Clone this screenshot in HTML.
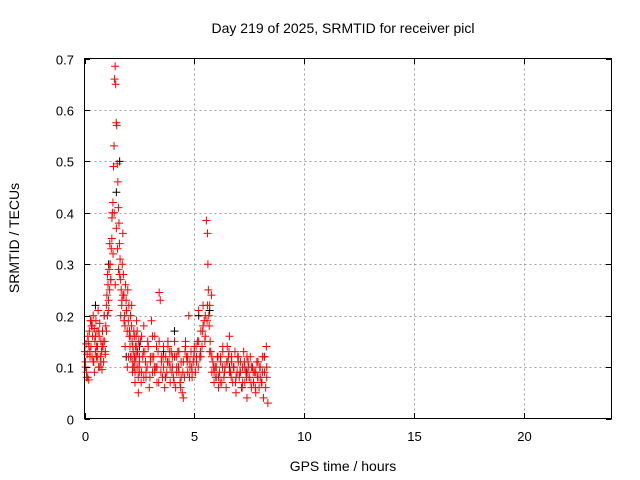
<!DOCTYPE html>
<html><head><meta charset="utf-8"><style>
body{margin:0;background:#fff;}
svg{display:block;font-family:"Liberation Sans",sans-serif;}
</style></head><body>
<svg id="chart" width="640" height="480" xmlns="http://www.w3.org/2000/svg">
<rect x="0" y="0" width="640" height="480" fill="#fff"/>
<g id="grid"></g>
<g id="marks"></g>
<rect x="84.5" y="58.5" width="527" height="360" fill="none" stroke="#000" stroke-width="1"/>
<g id="ticks"></g>
<text x="343" y="33" text-anchor="middle" font-size="14">Day 219 of 2025, SRMTID for receiver picl</text>
<text x="343" y="471" text-anchor="middle" font-size="14">GPS time / hours</text>
<text transform="translate(19,238) rotate(-90)" text-anchor="middle" font-size="14">SRMTID / TECUs</text>
</svg>
<script>
const xTicks=[0,5,10,15,20];
const yTicks=[0,0.1,0.2,0.3,0.4,0.5,0.6,0.7];
const yTickLabels=["0","0.1","0.2","0.3","0.4","0.5","0.6","0.7"];
const hoursRed=[0.02,0.045,0.07,0.095,0.12,0.145,0.17,0.195,0.22,0.245,0.27,0.295,0.32,0.345,0.37,0.395,0.42,0.445,0.47,0.495,0.52,0.545,0.57,0.595,0.62,0.645,0.67,0.695,0.72,0.745,0.77,0.795,0.82,0.845,0.87,0.895,0.92,0.945,0.97,0.995,1.02,1.045,1.07,1.095,1.12,1.145,1.17,1.195,1.22,1.245,1.27,1.295,1.32,1.345,1.37,1.395,1.42,1.445,1.47,1.495,1.52,1.545,1.57,1.595,1.62,1.645,1.67,1.695,1.72,1.745,1.77,1.795,1.82,1.845,1.87,1.895,1.92,1.945,1.97,1.995,2.02,2.045,2.07,2.095,2.12,2.145,2.17,2.195,2.22,2.245,2.27,2.295,2.32,2.345,2.37,2.395,2.42,2.445,2.47,2.495,2.05,2.1,2.15,2.2,2.25,2.3,2.35,2.4,2.45,2.5,2.55,2.6,2.65,2.7,2.75,2.8,2.85,2.9,2.95,3.0,3.05,3.1,3.15,3.2,3.25,3.3,3.35,3.4,3.45,3.5,3.55,3.6,3.65,3.7,3.75,3.8,3.85,3.9,3.95,4.0,4.05,4.1,4.15,4.2,4.25,4.3,4.35,4.4,4.45,4.5,4.55,4.6,4.65,4.7,4.75,4.8,4.85,4.9,4.95,5.0,5.05,5.1,5.15,5.2,5.25,5.3,5.35,5.4,5.45,5.5,5.55,5.6,5.62,5.64,5.66,5.68,5.7,5.72,5.75,5.8,5.85,5.9,5.95,6.0,6.05,6.1,6.15,6.2,6.25,6.3,6.35,6.4,6.45,6.5,6.55,6.6,6.65,6.7,6.75,6.8,6.85,6.9,6.95,7.0,7.05,7.1,7.15,7.2,7.25,7.3,7.35,7.4,7.45,7.5,7.55,7.6,7.65,7.7,7.75,7.8,7.85,7.9,7.95,8.0,8.05,8.1,8.15,8.2,8.25,8.3,8.35];
const valuesRed=[0.13,0.11,0.145,0.09,0.125,0.08,0.15,0.075,0.17,0.13,0.19,0.14,0.18,0.12,0.16,0.2,0.11,0.175,0.15,0.13,0.19,0.12,0.17,0.14,0.21,0.1,0.16,0.185,0.12,0.15,0.13,0.095,0.17,0.14,0.11,0.2,0.15,0.125,0.18,0.22,0.24,0.2,0.26,0.23,0.29,0.25,0.3,0.27,0.33,0.35,0.4,0.42,0.49,0.53,0.66,0.685,0.65,0.575,0.57,0.495,0.46,0.41,0.38,0.34,0.31,0.27,0.25,0.22,0.3,0.36,0.28,0.24,0.2,0.18,0.26,0.23,0.21,0.17,0.25,0.19,0.22,0.16,0.14,0.2,0.12,0.18,0.15,0.1,0.13,0.17,0.16,0.11,0.14,0.12,0.19,0.1,0.13,0.08,0.15,0.09,0.17,0.12,0.22,0.14,0.1,0.07,0.16,0.13,0.05,0.11,0.15,0.09,0.12,0.18,0.13,0.08,0.1,0.14,0.06,0.11,0.19,0.09,0.12,0.16,0.1,0.07,0.13,0.245,0.23,0.11,0.08,0.14,0.06,0.12,0.09,0.15,0.11,0.07,0.13,0.1,0.08,0.12,0.06,0.1,0.13,0.09,0.07,0.11,0.05,0.04,0.08,0.15,0.12,0.09,0.2,0.1,0.13,0.08,0.11,0.14,0.09,0.12,0.15,0.21,0.12,0.17,0.14,0.22,0.19,0.16,0.385,0.36,0.3,0.25,0.2,0.18,0.22,0.15,0.13,0.09,0.11,0.07,0.1,0.08,0.12,0.06,0.09,0.11,0.07,0.13,0.08,0.1,0.06,0.14,0.12,0.16,0.09,0.11,0.07,0.1,0.13,0.05,0.09,0.12,0.08,0.11,0.06,0.1,0.13,0.07,0.09,0.04,0.11,0.08,0.12,0.06,0.1,0.07,0.09,0.05,0.11,0.08,0.06,0.1,0.07,0.12,0.04,0.09,0.06,0.08,0.03,0.1,0.07,0.13,0.18,0.15,0.11];
const hoursRed2=[0.05,0.15,0.25,0.35,0.45,0.55,0.65,0.75,0.85,0.95,1.05,1.15,1.25,1.35,1.45,1.55,1.65,1.75,1.85,1.95,2.08,2.18,2.28,2.38,2.48,2.58,2.68,2.78,2.88,2.98,3.08,3.18,3.28,3.38,3.48,3.58,3.68,3.78,3.88,3.98,4.08,4.18,4.28,4.38,4.48,4.58,4.68,4.78,4.88,4.98,5.08,5.18,5.28,5.38,5.48,5.58,5.78,5.88,5.98,6.08,6.18,6.28,6.38,6.48,6.58,6.68,6.78,6.88,6.98,7.08,7.18,7.28,7.38,7.48,7.58,7.68,7.78,7.88,7.98,8.08,8.18,8.28];
const valuesRed2=[0.1,0.16,0.12,0.18,0.09,0.14,0.17,0.11,0.15,0.13,0.28,0.34,0.39,0.4,0.37,0.29,0.2,0.24,0.14,0.1,0.16,0.09,0.12,0.14,0.1,0.07,0.13,0.11,0.15,0.08,0.12,0.1,0.14,0.07,0.09,0.12,0.08,0.11,0.13,0.09,0.07,0.12,0.1,0.06,0.09,0.13,0.11,0.08,0.1,0.12,0.14,0.1,0.13,0.17,0.15,0.19,0.24,0.1,0.08,0.12,0.07,0.1,0.09,0.11,0.13,0.08,0.1,0.07,0.12,0.09,0.06,0.11,0.08,0.1,0.07,0.09,0.06,0.08,0.1,0.07,0.12,0.14];
const hoursRed3=[0.1,0.2,0.3,0.4,0.5,0.6,0.7,0.8,0.9,1.0,1.1,1.2,1.3,1.4,1.5,1.6,1.7,1.8,1.9,2.0,2.1,2.2,2.3,2.4,2.5,2.6,2.7,2.8,2.9,3.0,3.1,3.2,3.3,3.4,3.5,3.6,3.7,3.8,3.9,4.0,4.1,4.2,4.3,4.4,4.5,4.6,4.7,4.8,4.9,5.0,5.1,5.2,5.3,5.4,5.5,5.6,5.7,5.8,5.9,6.0,6.1,6.2,6.3,6.4,6.5,6.6,6.7,6.8,6.9,7.0,7.1,7.2,7.3,7.4,7.5,7.6,7.7,7.8,7.9,8.0,8.1,8.2,8.3];
const valuesRed3=[0.08,0.14,0.19,0.11,0.16,0.12,0.1,0.14,0.2,0.17,0.21,0.27,0.32,0.26,0.33,0.28,0.23,0.19,0.21,0.12,0.2,0.11,0.09,0.17,0.12,0.16,0.08,0.09,0.14,0.12,0.16,0.09,0.1,0.15,0.12,0.1,0.08,0.14,0.1,0.12,0.15,0.09,0.13,0.08,0.11,0.14,0.12,0.11,0.09,0.13,0.11,0.15,0.12,0.18,0.2,0.22,0.13,0.12,0.09,0.1,0.08,0.12,0.14,0.1,0.11,0.09,0.12,0.1,0.08,0.11,0.09,0.07,0.1,0.12,0.08,0.1,0.07,0.09,0.11,0.08,0.09,0.12,0.1];
const hoursBlack=[0.5,1.1,1.45,1.6,1.9,2.5,3.6,4.1,5.2,5.7,6.6,7.4];
const valuesBlack=[0.22,0.3,0.44,0.5,0.12,0.14,0.13,0.17,0.2,0.21,0.1,0.09];
const X=h=>84.5+h*527/24;
const Y=v=>418.5-v*360/0.7;
const NS="http://www.w3.org/2000/svg";
const grid=document.getElementById('grid'),ticks=document.getElementById('ticks'),marks=document.getElementById('marks');
function ln(p,x1,y1,x2,y2,st,dash){const l=document.createElementNS(NS,'line');l.setAttribute('x1',x1);l.setAttribute('y1',y1);l.setAttribute('x2',x2);l.setAttribute('y2',y2);l.setAttribute('stroke',st);if(dash)l.setAttribute('stroke-dasharray',dash);p.appendChild(l);return l;}
function tx(p,x,y,s,anchor){const t=document.createElementNS(NS,'text');t.setAttribute('x',x);t.setAttribute('y',y);t.setAttribute('font-size','13');t.setAttribute('text-anchor',anchor);t.textContent=s;p.appendChild(t);return t;}
xTicks.forEach(h=>{const x=Math.round(X(h))+0.5;
 if(h>0){const g=ln(grid,x,58.5,x,418.5,'#a0a0a0','2,3');}
 const t=ln(ticks,x,418.5,x,413,'#000');
 const t2=ln(ticks,x,58.5,x,64,'#000');
 const lb=tx(ticks,x,441,String(h),'middle');});
yTicks.forEach((v,i)=>{const y=Math.round(Y(v))+0.5;
 if(v>0&&v<0.7){const g=ln(grid,84.5,y,611.5,y,'#a0a0a0','2,3');}
 const t=ln(ticks,84.5,y,90,y,'#000');
 const t2=ln(ticks,611.5,y,606,y,'#000');
 const lb=tx(ticks,74,y+5,yTickLabels[i],'end');});
function plus(h,v,c){const x=X(h),y=Y(v);const p=document.createElementNS(NS,'path');p.setAttribute('d',`M${x-4},${y}H${x+4}M${x},${y-4}V${y+4}`);p.setAttribute('stroke',c);p.setAttribute('fill','none');marks.appendChild(p);return p;}
hoursBlack.forEach((h,i)=>{const p=plus(h,valuesBlack[i],'#000');

});
hoursRed.forEach((h,i)=>{const p=plus(h,valuesRed[i],'#f00');

});
hoursRed2.forEach((h,i)=>{const p=plus(h,valuesRed2[i],'#f00');

});
hoursRed3.forEach((h,i)=>{const p=plus(h,valuesRed3[i],'#f00');

});
</script>
</body></html>
